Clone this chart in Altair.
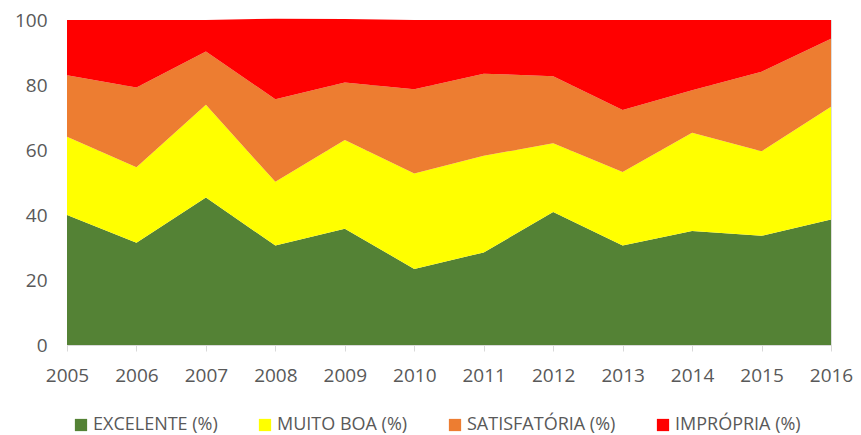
import altair as alt
import pandas as pd

years = [2005, 2006, 2007, 2008, 2009, 2010, 2011, 2012, 2013, 2014, 2015, 2016]
categories = ["EXCELENTE (%)", "MUITO BOA (%)", "SATISFATÓRIA (%)", "IMPRÓPRIA (%)"]
colors = ["#548235", "#FFFF00", "#ED7D31", "#FF0000"]

excelente = [40.0, 31.5, 45.4, 30.6, 35.8, 23.4, 28.5, 40.9, 30.6, 35.1, 33.6, 38.6]
muito_boa = [24.1, 23.2, 28.5, 19.6, 27.3, 29.4, 29.7, 21.2, 22.6, 30.2, 26.0, 34.7]
satisfatoria = [18.9, 24.5, 16.4, 25.4, 17.7, 25.9, 25.3, 20.6, 19.1, 13.1, 24.5, 20.9]
impropria = [17.0, 20.8, 9.7, 24.8, 19.5, 21.3, 16.5, 17.3, 27.7, 21.6, 15.9, 5.8]

series = [excelente, muito_boa, satisfatoria, impropria]
rows = []
for i, (cat, vals) in enumerate(zip(categories, series)):
    for y, v in zip(years, vals):
        rows.append({"Ano": y, "Categoria": cat, "Valor": v, "ord": i})
df = pd.DataFrame(rows)

FONT = "Open Sans"
GRAY = "#595959"

chart = alt.Chart(df).mark_area(interpolate="linear").encode(
    x=alt.X("Ano:Q",
            scale=alt.Scale(domain=[2005, 2016], nice=False, zero=False),
            axis=alt.Axis(values=years, format="d", title=None, grid=False,
                          tickColor="#d9d9d9", tickSize=6, domainColor="#d9d9d9",
                          labelColor=GRAY, labelFontSize=19, labelFont=FONT,
                          labelPadding=15, labelFlush=False, labelBound=False,
                          labelOverlap=False)),
    y=alt.Y("Valor:Q", stack="zero",
            scale=alt.Scale(domain=[0, 100], nice=False),
            axis=alt.Axis(values=[0, 20, 40, 60, 80, 100], title=None, ticks=False,
                          domain=False, gridColor="#d9d9d9",
                          labelColor=GRAY, labelFontSize=19, labelFont=FONT,
                          labelPadding=20)),
    color=alt.Color("Categoria:N",
                    scale=alt.Scale(domain=categories, range=colors),
                    legend=alt.Legend(title=None, orient="none", direction="horizontal",
                                      legendX=5, legendY=396,
                                      symbolType="square", symbolSize=150,
                                      symbolStrokeWidth=0, symbolOpacity=1,
                                      labelFont=FONT, labelFontSize=18,
                                      labelColor=GRAY, columnPadding=38,
                                      labelOffset=3, labelLimit=300)),
    order=alt.Order("ord:Q", sort="ascending"),
).properties(
    width=764,
    height=325,
    autosize=alt.AutoSizeParams(type="none"),
    padding={"left": 59, "top": 12, "right": 22, "bottom": 90},
).configure_view(stroke=None).configure(background="white")

chart.save("out.html", embed_options={"renderer": "svg", "actions": False})
